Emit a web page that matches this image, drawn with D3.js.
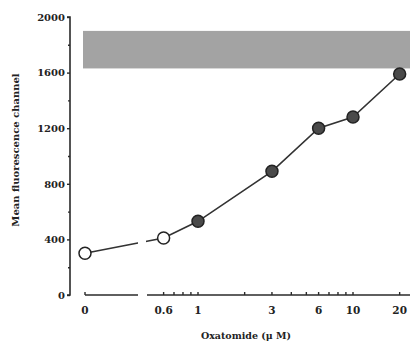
<!DOCTYPE html>
<html>
<head>
<meta charset="utf-8">
<script src="https://cdn.jsdelivr.net/npm/d3@7"></script>
<style>
  body { margin: 0; background: #fff; }
  text { font-family: "DejaVu Serif", "Liberation Serif", serif; font-weight: bold; fill: #222; }
</style>
</head>
<body>
<svg width="410" height="344"></svg>
<script>
// data
var doses = [0, 0.6, 1, 3, 6, 10, 20];
var fluor = [300, 410, 530, 890, 1200, 1280, 1590];
var openPoint = [true, true, false, false, false, false, false];
var band = [1630, 1900];
var yMajor = [0, 400, 800, 1200, 1600, 2000];
var yMinor = [200, 600, 1000, 1400, 1800];
var xTicks = [0.6, 0.7, 0.8, 0.9, 1, 2, 3, 4, 5, 6, 7, 8, 9, 10, 20];
var xLabels = [0.6, 1, 3, 6, 10, 20];

var svg = d3.select("svg");
var ink = "#2a2a2a";

var y = d3.scaleLinear().domain([0, 2000]).range([295, 17]);
// broken x axis: a short piece for the zero dose, then a log scale
var x0 = d3.scaleLinear().domain([0, 1]).range([85, 138]);
var xl = d3.scaleLog().domain([1, 10]).range([198, 353]);
var xPos = function(d) { return d === 0 ? x0(0) : xl(d); };

// grey reference band
svg.append("rect")
  .attr("x", 83).attr("width", 410 - 83)
  .attr("y", y(band[1])).attr("height", y(band[0]) - y(band[1]))
  .attr("fill", "#a3a3a3");

// y axis
var gy = svg.append("g").attr("transform", "translate(70,0)")
  .call(d3.axisLeft(y).tickValues(yMajor).tickSize(3).tickPadding(2).tickFormat(d3.format("d")));
gy.append("g").call(d3.axisLeft(y).tickValues(yMinor).tickSize(2).tickFormat(""));
gy.selectAll(".domain").remove();
gy.append("path").attr("d", "M-3," + y(2000) + "H0V" + y(0) + "H-3")
  .attr("fill", "none").attr("stroke", ink).attr("stroke-width", 1.6);
gy.selectAll("line").attr("stroke", ink).attr("stroke-width", 1.4);
gy.selectAll("text").style("font-size", "10px");

// x axis, two pieces
var gx = svg.append("g").attr("transform", "translate(0,295)");
gx.append("line").attr("x1", x0(0)).attr("x2", x0(1)).attr("stroke", ink).attr("stroke-width", 1.6);
gx.append("line").attr("x1", 147).attr("x2", 410).attr("stroke", ink).attr("stroke-width", 1.6);
gx.selectAll(".tk").data([0].concat(xTicks)).enter().append("line")
  .attr("x1", xPos).attr("x2", xPos).attr("y1", 0).attr("y2", -3)
  .attr("stroke", ink).attr("stroke-width", 1.4);
gx.selectAll(".lb").data([0].concat(xLabels)).enter().append("text")
  .attr("x", xPos).attr("y", 19).attr("text-anchor", "middle")
  .style("font-size", "10.5px")
  .text(function(d) { return d; });

svg.append("text").attr("x", 246).attr("y", 339).attr("text-anchor", "middle")
  .style("font-size", "9.5px").text("Oxatomide (\u03bc M)");
svg.append("text").attr("transform", "translate(19,150) rotate(-90)")
  .attr("text-anchor", "middle").style("font-size", "10px")
  .text("Mean fluorescence channel");

// line with a gap at the axis break
var clip = svg.append("clipPath").attr("id", "gap");
clip.append("rect").attr("x", 0).attr("y", 0).attr("width", 138).attr("height", 344);
clip.append("rect").attr("x", 146).attr("y", 0).attr("width", 264).attr("height", 344);

var pts = doses.map(function(d, i) { return [xPos(d), y(fluor[i])]; });
svg.append("path").attr("d", d3.line()(pts))
  .attr("clip-path", "url(#gap)")
  .attr("fill", "none").attr("stroke", "#333").attr("stroke-width", 1.6);

svg.selectAll(".pt").data(pts).enter().append("circle")
  .attr("cx", function(d) { return d[0]; })
  .attr("cy", function(d) { return d[1]; })
  .attr("r", 6)
  .attr("fill", function(d, i) { return openPoint[i] ? "#fff" : "#4a4a4a"; })
  .attr("stroke", "#222").attr("stroke-width", 1.5);
</script>
</body>
</html>
